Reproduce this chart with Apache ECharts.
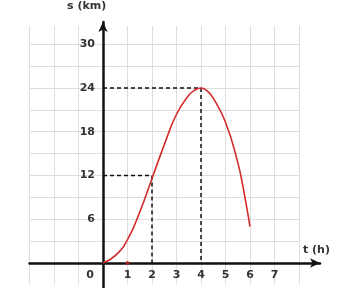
<!DOCTYPE html>
<html>
<head>
<meta charset="utf-8">
<script src="https://cdn.jsdelivr.net/npm/echarts@6/dist/echarts.min.js"></script>
<style>html,body{margin:0;padding:0;background:#fff}#c{width:347px;height:288px}</style>
</head>
<body>
<div id="c"></div>
<script>
// time (h) and distance (km)
const tValues = [0, 0.5, 1, 1.5, 2, 2.5, 3, 3.5, 3.75, 4, 4.25, 4.5, 5, 5.5, 5.75, 6];
const sValues = [0, 1.0, 3.2, 7.0, 11.6, 16.2, 20.4, 23.0, 23.7, 24, 23.6, 22.6, 19.3, 13.8, 9.8, 5.0];
// dashed guide lines
const guide24 = [[0, 24], [4, 24], [4, 0]];
const guide12 = [[0, 12], [2, 12], [2, 0]];
// small marker on the t axis
const markerPoint = [[1, 0]];
// tick labels
const xTickLabels = [0, 1, 2, 3, 4, 5, 6, 7];
const yTickLabels = [6, 12, 18, 24, 30];
const xTitle = 't (h)';
const yTitle = 's (km)';

const curve = tValues.map((t, i) => [t, sValues[i]]);
const font = { fontFamily: 'DejaVu Sans', fontWeight: 'bold', fontSize: 11, color: '#333' };
const hiddenAxis = { axisLine: { show: false }, axisTick: { show: false }, axisLabel: { show: false }, splitLine: { show: false } };

const chart = echarts.init(document.getElementById('c'));
chart.setOption({
  backgroundColor: '#fff',
  animation: false,
  grid: [
    { left: 29.5, right: 48, top: 26, bottom: 3.1, outerBoundsMode: 'none' },
    { left: 29.5, right: 27, top: 22, bottom: 0, outerBoundsMode: 'none' },
    { left: 103, right: 48, top: 44.25, bottom: 25, outerBoundsMode: 'none' }
  ],
  xAxis: [
    Object.assign({}, hiddenAxis, {
      gridIndex: 0, type: 'value', min: -3, max: 8, interval: 1,
      splitLine: { show: true, lineStyle: { color: '#dedede', width: 1 } }
    }),
    Object.assign({}, hiddenAxis, {
      gridIndex: 1, type: 'value', min: -3, max: 8.857,
      axisLine: { show: true, onZero: true, symbol: ['none', 'arrow'], symbolSize: [7, 10],
        lineStyle: { color: '#111', width: 2.5 } }
    }),
    Object.assign({}, hiddenAxis, {
      gridIndex: 2, type: 'value', min: 0, max: 8, interval: 1,
      axisLabel: Object.assign({
        show: true, margin: 7, showMinLabel: true,
        formatter: v => v === 0 ? '{z|0}' : (xTickLabels.includes(v) ? String(v) : ''),
        rich: { z: Object.assign({ padding: [0, 26, 0, 0] }, font) }
      }, font)
    })
  ],
  yAxis: [
    Object.assign({}, hiddenAxis, {
      gridIndex: 0, type: 'value', min: -3, max: 32.5, interval: 3,
      splitLine: { show: true, showMinLine: false, showMaxLine: false, lineStyle: { color: '#dedede', width: 1 } }
    }),
    Object.assign({}, hiddenAxis, {
      gridIndex: 1, type: 'value', min: -3.43, max: 33.05,
      axisLine: { show: true, onZero: true, symbol: ['none', 'arrow'], symbolSize: [7, 10],
        lineStyle: { color: '#111', width: 2.5 } }
    }),
    Object.assign({}, hiddenAxis, {
      gridIndex: 2, type: 'value', min: 0, max: 30, interval: 6,
      axisLabel: Object.assign({
        show: true, margin: 8,
        formatter: v => yTickLabels.includes(v) ? String(v) : ''
      }, font)
    })
  ],
  graphic: [
    { type: 'text', left: 67, top: 1, style: { text: yTitle, fill: '#333', font: 'bold 11px "DejaVu Sans"' } },
    { type: 'text', left: 303, top: 245, style: { text: xTitle, fill: '#333', font: 'bold 11px "DejaVu Sans"' } }
  ],
  series: [
    {
      type: 'line', xAxisIndex: 1, yAxisIndex: 1, data: guide24, symbol: 'none',
      lineStyle: { color: '#111', width: 1.5, type: [4, 3] }, z: 3
    },
    {
      type: 'line', xAxisIndex: 1, yAxisIndex: 1, data: guide12, symbol: 'none',
      lineStyle: { color: '#111', width: 1.5, type: [4, 3] }, z: 3
    },
    {
      type: 'line', xAxisIndex: 1, yAxisIndex: 1, data: curve, symbol: 'none',
      smooth: 0.5, lineStyle: { color: '#d42a2a', width: 1.6 }, z: 4
    },
    {
      type: 'scatter', xAxisIndex: 1, yAxisIndex: 1, data: markerPoint,
      symbolSize: 4, itemStyle: { color: '#c02020' }, z: 5
    }
  ]
});
</script>
</body>
</html>
